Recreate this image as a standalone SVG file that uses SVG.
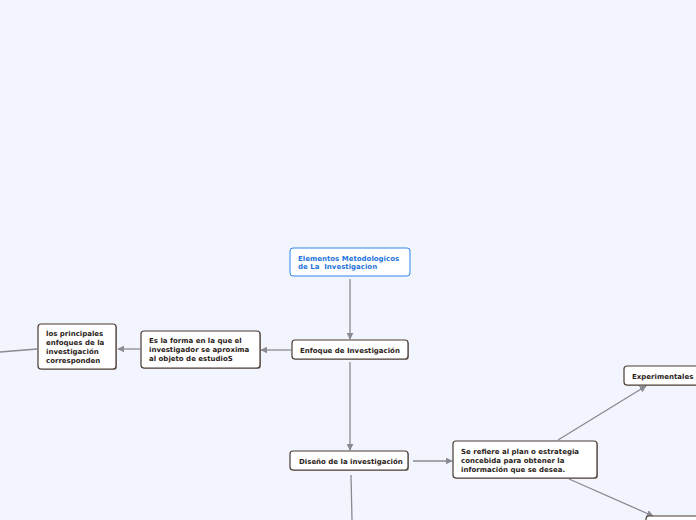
<svg xmlns="http://www.w3.org/2000/svg" width="696" height="520" viewBox="0 0 696 520">
<style>
.n rect.b{fill:#fff;stroke:#4a3b33;stroke-width:1.2}
.n rect.s{fill:#6b5a52;opacity:0.6}
.t{font-family:"DejaVu Sans",Verdana,sans-serif;font-weight:bold;font-size:7px;fill:#2b2320;white-space:pre}
.r rect.b{fill:#fff;stroke:#2d86ea;stroke-width:1}
.r .t{fill:#1f74dc}
.c path{fill:none;stroke:#8a8a90;stroke-width:1.3}
</style>
<defs>
<marker id="a" viewBox="0 0 10 10" refX="9" refY="5" markerWidth="7" markerHeight="7" markerUnits="userSpaceOnUse" orient="auto">
<path d="M0,0 L10,5 L0,10 z" fill="#8a8a90"/>
</marker>
</defs>
<rect width="696" height="520" fill="#f2f5fe"/>
<g class="c">
<path d="M350,279 V339" marker-end="url(#a)"/>
<path d="M291,350 H261" marker-end="url(#a)"/>
<path d="M140,349 H118" marker-end="url(#a)"/>
<path d="M37,349 L0,352"/>
<path d="M350,362 V450" marker-end="url(#a)"/>
<path d="M413,461 H452" marker-end="url(#a)"/>
<path d="M351,475 L352,520"/>
<path d="M558,440 L646,386" marker-end="url(#a)"/>
<path d="M569,479 L653,516" marker-end="url(#a)"/>
</g>
<g id="root" class="r">
<rect class="b" x="290" y="248" width="120" height="28" rx="3"/>
<text class="t" x="298" y="261">Elementos Metodologicos</text>
<text class="t" x="298" y="269" xml:space="preserve">de La  Investigacion</text>
</g>
<g id="enfoque" class="n">
<rect class="s" x="293" y="341" width="116" height="19" rx="3"/>
<rect class="b" x="292" y="340" width="116" height="19" rx="3"/>
<text class="t" x="300" y="353">Enfoque de Investigación</text>
</g>
<g id="forma" class="n">
<rect class="s" x="142" y="332" width="119" height="37" rx="3"/>
<rect class="b" x="141" y="331" width="119" height="37" rx="3"/>
<text class="t" x="149" y="343">Es la forma en la que el</text>
<text class="t" x="149" y="352">investigador se aproxima</text>
<text class="t" x="149" y="361">al objeto de estudioS</text>
</g>
<g id="principales" class="n">
<rect class="s" x="39" y="325" width="78" height="45" rx="3"/>
<rect class="b" x="38" y="324" width="78" height="45" rx="3"/>
<text class="t" x="46" y="336">los principales</text>
<text class="t" x="46" y="345">enfoques de la</text>
<text class="t" x="46" y="354">investigación</text>
<text class="t" x="46" y="363">corresponden</text>
</g>
<g id="diseno" class="n">
<rect class="s" x="291" y="452" width="118" height="19" rx="3"/>
<rect class="b" x="290" y="451" width="118" height="19" rx="3"/>
<text class="t" x="299" y="464">Diseño de la investigación</text>
</g>
<g id="refiere" class="n">
<rect class="s" x="454" y="442" width="144" height="37" rx="3"/>
<rect class="b" x="453" y="441" width="144" height="37" rx="3"/>
<text class="t" x="461" y="454">Se refiere al plan o estrategia</text>
<text class="t" x="461" y="463">concebida para obtener la</text>
<text class="t" x="461" y="472">información que se desea.</text>
</g>
<g id="experimentales" class="n">
<rect class="s" x="625" y="367" width="80" height="19" rx="3"/>
<rect class="b" x="624" y="366" width="80" height="19" rx="3"/>
<text class="t" x="632" y="379">Experimentales</text>
</g>
<g id="otro" class="n">
<rect class="s" x="647" y="517" width="60" height="19" rx="3"/>
<rect class="b" x="646" y="516" width="60" height="19" rx="3"/>
</g>
</svg>
